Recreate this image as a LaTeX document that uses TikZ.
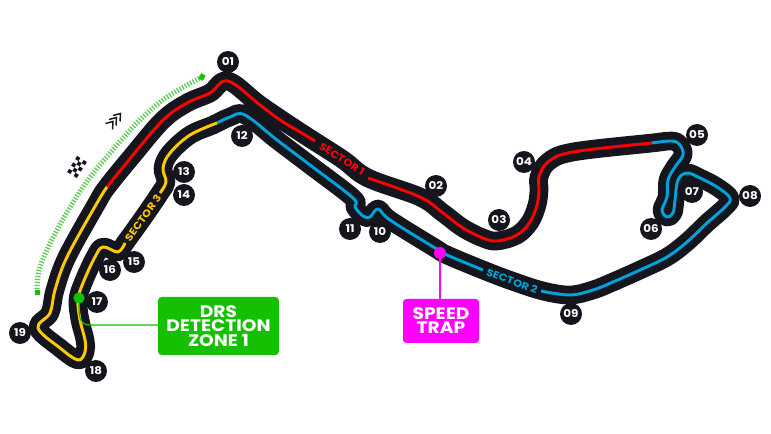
\documentclass[tikz,border=0pt]{standalone}
\usepackage{fontspec}
\setmainfont{Poppins}
\newfontfamily\labelfont[FakeStretch=1.12]{Poppins}
\usetikzlibrary{shapes.geometric, arrows}
\definecolor{trackblack}{HTML}{15151E}
\definecolor{sectorred}{HTML}{FF0000}
\definecolor{sectorblue}{HTML}{00A3D9}
\definecolor{sectoryellow}{HTML}{FFC906}
\definecolor{drsgreen}{HTML}{14C000}
\definecolor{startgreen}{HTML}{5FCB55}
\definecolor{trapmagenta}{HTML}{FF00FF}
\tikzstyle{trackBase} = [line width=14pt, draw=trackblack, line join=round]
\tikzstyle{sectorLine} = [line width=2.2pt, line cap=butt, line join=round]
\tikzstyle{corner} = [circle, fill=trackblack, text=white, inner sep=0pt, minimum size=16.5pt, font=\labelfont\bfseries\fontsize{8}{8}\selectfont]
\tikzstyle{sectorText} = [inner sep=0pt, font=\labelfont\bfseries\fontsize{7.6}{7.6}\selectfont]
\tikzstyle{infoBox} = [rectangle, rounded corners=2.5pt, text=white, align=center, inner sep=0pt, font=\labelfont\bfseries\fontsize{12.5}{10.6}\selectfont]
\tikzstyle{dot} = [circle, inner sep=0pt]
\newcommand{\trackpart}[2]{\draw[#1] plot[smooth, tension=0.6] coordinates {#2};}
\begin{document}
\begin{tikzpicture}[x=0.75pt, y=-0.75pt]
\useasboundingbox (0,0) rectangle (771,434);

% start line
\trackpart{startgreen, line width=3.8pt, dash pattern=on 1pt off 1.25pt}{(202,77) (167,97) (140,120) (110,153) (83,187) (57,230) (40,267) (37,292)}
\fill[drsgreen, rotate around={-30:(202,77)}] (199.5,74) rectangle (204.5,80);
\fill[drsgreen] (34.5,290) rectangle (39.5,295);

% flag
\begin{scope}[shift={(77,167)}, rotate=58, x=0.75pt, y=-0.75pt]
\foreach \i in {0,...,4} {
\foreach \j in {0,...,2} {
\pgfmathparse{int(mod(\i+\j,2))}
\ifnum\pgfmathresult=0
\fill[trackblack] ({(\i-2.5)*3.8},{(\j-1.5)*3.8}) rectangle +(3.8,3.8);
\fi
}
}
\end{scope}

% chevrons
\draw[trackblack, line width=1.1pt] (105.5,123.5) -- (113,121.5) -- (112.5,129.5);
\draw[trackblack, line width=1.1pt] (109,119.5) -- (116.5,117.5) -- (116,125.5);
\draw[trackblack, line width=1.1pt] (113,115.5) -- (120.5,113.5) -- (120,121.5);

% track
\draw[trackBase] plot[smooth cycle, tension=0.6] coordinates {
(228,81) (260,105) (300,132) (342,159) (368,178) (420,197) (443,213) (463,228) (483,238) (497,241) (517,235) (530,222) (537,205) (539,190) (539,177) (548,162) (573,152) (652,143) (672,141) (680,145) (683,155) (675,167) (668,180) (667,197) (662,210) (667,217) (673,213) (675,200) (678,180) (687,173) (700,178) (717,187) (730,198) (725,207) (707,223) (687,242) (667,257) (640,270) (613,282) (593,290) (570,295) (543,291) (512,281) (483,270) (447,255) (435,248) (390,220) (378,209) (370,217) (363,216) (355,207) (353,198) (310,165) (277,140) (245,115) (230,117) (213,125) (190,135) (170,153) (163,168) (166,182) (160,193) (143,218) (125,243) (118,252) (103,247) (95,257) (83,283) (78,300) (80,320) (85,340) (85,352) (78,360) (60,348) (38,328) (50,313) (55,290) (67,257) (97,203) (107,187) (133,155) (163,120) (187,103) (210,93)
};

% sectors
\trackpart{sectorLine, sectorred}{(107,187) (133,155) (163,120) (187,103) (210,93) (228,81) (260,105) (280,120) (300,132) (315,141)}
\trackpart{sectorLine, sectorred}{(368,178) (420,197) (443,213) (463,228) (483,238) (497,241) (517,235) (530,222) (537,205) (539,190) (539,177) (548,162) (573,152) (652,143)}
\trackpart{sectorLine, sectorblue}{(652,143) (672,141) (680,145) (683,155) (675,167) (668,180) (667,197) (662,210) (667,217) (673,213) (675,200) (678,180) (687,173) (700,178) (717,187) (730,198) (725,207) (707,223) (687,242) (667,257) (640,270) (613,282) (593,290) (570,295) (541,291)}
\trackpart{sectorLine, sectorblue}{(483,270) (447,255) (435,248) (390,220) (378,209) (370,217) (363,216) (355,207) (353,198) (310,165) (277,140) (245,115) (230,117) (217,123)}
\trackpart{sectorLine, sectoryellow}{(217,123) (190,135) (170,153) (163,168) (166,182) (160,193)}
\trackpart{sectorLine, sectoryellow}{(125,243) (118,252) (103,247) (95,257) (83,283) (78,300) (80,320) (85,340) (85,352) (78,360) (60,348) (38,328) (50,313) (55,290) (67,257) (97,203) (107,187)}

\node (sector1) [sectorText, text=sectorred, rotate=-33] at (342,159) {SECTOR 1};
\node (sector2) [sectorText, text=sectorblue, rotate=-20] at (512,281) {SECTOR 2};
\node (sector3) [sectorText, text=sectoryellow, rotate=54] at (143,218) {SECTOR 3};

% corners
\node (c01) [corner] at (228,62) {01};
\node (c02) [corner] at (436,186) {02};
\node (c03) [corner] at (499,220) {03};
\node (c04) [corner] at (524,162) {04};
\node (c05) [corner] at (697,135) {05};
\node (c06) [corner] at (651,229) {06};
\node (c07) [corner] at (692,192) {07};
\node (c08) [corner] at (750,196) {08};
\node (c09) [corner] at (571,314) {09};
\node (c10) [corner] at (380,232) {10};
\node (c11) [corner] at (350,229) {11};
\node (c12) [corner] at (242,136) {12};
\node (c13) [corner] at (184,172) {13};
\node (c14) [corner] at (184,195) {14};
\node (c15) [corner] at (134,262) {15};
\node (c16) [corner] at (110,270) {16};
\node (c17) [corner] at (97,302) {17};
\node (c18) [corner] at (96,371) {18};
\node (c19) [corner] at (20,333) {19};

% drs
\node (drsdot) [dot, fill=drsgreen, minimum size=8.5pt] at (79,298) {};
\node (drsbox) [infoBox, fill=drsgreen, minimum width=90.5pt, minimum height=43.5pt] at (218.5,326) {DRS\\DETECTION\\ZONE 1};
\draw [drsgreen, line width=0.9pt] (drsdot) .. controls (79,318) and (80,325) .. (90,325) -- (drsbox.west |- 90,325);

% speed trap
\node (trapdot) [dot, fill=trapmagenta, minimum size=9pt] at (440,253) {};
\node (trapbox) [infoBox, fill=trapmagenta, minimum width=57pt, minimum height=33pt] at (441,321) {SPEED\\TRAP};
\draw [trapmagenta, line width=1.1pt] (trapdot) -- (trapdot |- trapbox.north);

\end{tikzpicture}
\end{document}
